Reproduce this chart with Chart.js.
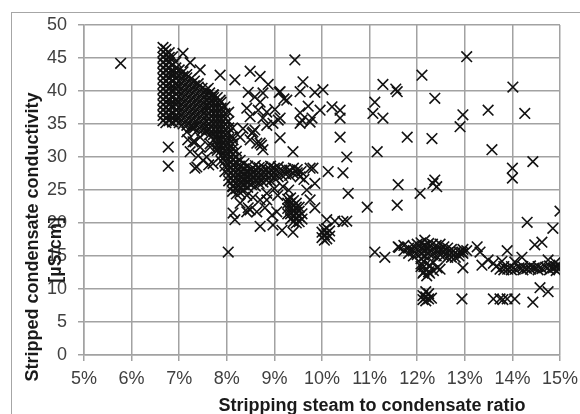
<!DOCTYPE html>
<html>
<head>
<meta charset="utf-8">
<script src="https://cdn.jsdelivr.net/npm/chart.js@4"></script>
<style>
  html, body { margin: 0; padding: 0; background: #fff; }
  canvas { display: block; }
</style>
</head>
<body>
<canvas id="chart" width="580" height="414"></canvas>
<script>
// ── Data (x = stripping steam ratio in %, y = conductivity in µS/cm)
const xTicks = [5, 6, 7, 8, 9, 10, 11, 12, 13, 14, 15];
const yTicks = [0, 5, 10, 15, 20, 25, 30, 35, 40, 45, 50];

// dense diagonal mass, one column of values per ratio
const massRatio = [6.66, 6.72, 6.79, 6.86, 6.93, 7.00, 7.08, 7.16, 7.24, 7.32, 7.40, 7.48,
  7.56, 7.64, 7.72, 7.80, 7.88, 7.96, 8.04, 8.12, 8.20, 8.28, 8.36];
const massCond = [
  [35.5, 36.3, 37.1, 37.9, 38.7, 39.5, 40.3, 41.1, 41.9, 42.7, 43.5, 44.3, 45.1, 45.9, 46.6],
  [35.2, 36.0, 36.8, 37.6, 38.4, 39.2, 40.0, 40.8, 41.6, 42.4, 43.2, 44.0, 44.8, 45.6, 46.3],
  [35.5, 36.3, 37.1, 37.9, 38.7, 39.5, 40.3, 41.1, 41.9, 42.7, 43.5, 44.3, 45.1, 45.8],
  [35.3, 36.5, 37.8, 39.0, 40.2, 41.5, 42.8, 44.0, 45.2],
  [35.5, 36.3, 37.1, 37.9, 38.7, 39.5, 40.3, 41.1, 41.9, 42.7, 43.5, 44.4],
  [35.2, 36.0, 36.8, 37.6, 38.4, 39.2, 40.0, 40.8, 41.6, 42.4, 43.2],
  [35.0, 35.8, 36.6, 37.4, 38.2, 39.0, 39.8, 40.6, 41.4, 42.2, 42.9],
  [34.8, 35.6, 36.4, 37.2, 38.0, 38.8, 39.6, 40.4, 41.2, 42.0, 42.5],
  [34.6, 35.4, 36.2, 37.0, 37.8, 38.6, 39.4, 40.2, 41.0, 41.8],
  [34.4, 35.2, 36.0, 36.8, 37.6, 38.4, 39.2, 40.0, 40.8, 41.5],
  [34.2, 35.0, 35.8, 36.6, 37.4, 38.2, 39.0, 39.8, 40.6, 41.1],
  [34.0, 34.8, 35.6, 36.4, 37.2, 38.0, 38.8, 39.6, 40.4],
  [33.8, 34.6, 35.4, 36.2, 37.0, 37.8, 38.6, 39.4, 40.1],
  [33.4, 34.2, 35.0, 35.8, 36.6, 37.4, 38.2, 39.0, 39.7],
  [32.6, 33.4, 34.2, 35.0, 35.8, 36.6, 37.4, 38.2, 39.0, 39.4],
  [31.0, 31.8, 32.6, 33.4, 34.2, 35.0, 35.8, 36.6, 37.4, 38.2, 39.0],
  [29.4, 30.2, 31.0, 31.8, 32.6, 33.4, 34.2, 35.0, 35.8, 36.6, 37.4, 38.3],
  [27.8, 28.6, 29.4, 30.2, 31.0, 31.8, 32.6, 33.4, 34.2, 35.0, 35.8, 36.6, 37.6],
  [26.4, 27.2, 28.0, 28.8, 29.6, 30.4, 31.2, 32.0, 32.8, 33.6, 34.4, 35.4, 36.8],
  [24.8, 25.6, 26.4, 27.2, 28.0, 28.8, 29.6, 30.4, 31.2, 32.0, 33.0, 34.4],
  [24.4, 25.2, 26.0, 26.8, 27.6, 28.4, 29.2, 30.0, 30.9],
  [24.6, 25.4, 26.2, 27.0, 27.8, 28.6, 29.5],
  [25.0, 25.8, 26.6, 27.4, 28.2, 29.0],
];

// horizontal band around 27 µS/cm
const bandRatio = [8.44, 8.52, 8.60, 8.68, 8.76, 8.84, 8.92, 9.00, 9.08, 9.16, 9.24, 9.32, 9.40, 9.48, 9.56];
const bandCond = [
  [25.4, 26.2, 27.0, 27.8, 28.6], [25.8, 26.6, 27.4, 28.2], [25.6, 26.4, 27.2, 28.0, 28.7],
  [26.0, 26.8, 27.6, 28.4], [26.2, 27.0, 27.8, 28.5], [26.5, 27.3, 28.1],
  [26.4, 27.2, 28.0, 28.6], [26.8, 27.6, 28.3], [27.0, 27.8, 28.5], [27.2, 28.0],
  [27.4, 28.2], [27.2, 28.0], [27.5, 28.3], [27.6, 28.1], [27.8],
];

// blobs near 9.4 % and 10 %
const blobRatio = [9.28, 9.34, 9.40, 9.46, 9.52, 9.58, 10.00, 10.05, 10.10, 10.16];
const blobCond = [
  [21.4, 22.2, 23.0, 23.6], [20.6, 21.4, 22.2, 23.0, 23.8], [20.2, 21.0, 21.8, 22.6, 23.4],
  [20.0, 20.8, 21.6, 22.4, 23.0], [20.2, 21.0, 21.8, 22.4], [20.6, 21.4],
  [17.8, 18.6], [17.4, 18.2, 19.0], [17.6, 18.4, 19.2], [18.0, 18.8],
];

// right-hand bands (12-13 % around 15.5, 13.6-15 % around 13)
const rightRatio = [11.62, 11.72, 11.82, 11.92, 12.00, 12.08, 12.16, 12.24, 12.32, 12.40, 12.48,
  12.56, 12.64, 12.72, 12.80, 12.88, 12.96, 13.04,
  12.08, 12.14, 12.20, 12.26, 12.34, 12.42, 12.48, 12.12, 12.18, 12.24, 12.30,
  13.66, 13.74, 13.82, 13.90, 13.98, 14.06, 14.14, 14.22, 14.30, 14.38, 14.46, 14.54,
  14.62, 14.70, 14.78, 14.86, 14.92, 14.98];
const rightCond = [
  [16.3], [15.8, 16.6], [15.4, 16.2], [15.0, 15.8, 16.5], [15.2, 16.0, 16.8],
  [14.6, 15.4, 16.2, 17.0], [15.0, 15.8, 16.6, 17.4], [15.4, 16.2, 16.9], [15.2, 16.0, 16.8],
  [15.0, 15.8, 16.6], [15.2, 16.0, 16.8], [15.0, 15.7, 16.4], [14.8, 15.5, 16.2],
  [14.8, 15.5, 16.0], [14.8, 15.5], [15.0, 15.6], [15.4, 16.0], [15.8],
  [13.8, 13.4], [12.6, 13.4, 14.2], [12.0, 13.0], [12.4, 13.6], [12.8, 14.0], [13.2], [13.0],
  [8.4, 9.0, 12.4], [8.2, 8.8, 9.6], [8.5, 9.3, 12.6], [8.6],
  [13.4], [13.0], [12.9, 13.4], [13.0], [12.9, 13.4], [13.0], [13.2], [12.9, 13.4],
  [13.1], [13.0, 13.5], [13.2], [12.9, 13.4], [13.1], [13.3], [12.9, 13.5], [13.2],
  [12.8, 13.4], [13.0, 13.6],
];

// single scattered crosses
const scatterRatio = [5.77, 6.77, 6.77, 8.03,
  7.23, 7.44, 7.86, 8.17, 8.49, 8.70, 8.87, 9.10, 9.20, 8.45, 8.59, 8.76, 8.70, 8.42, 8.49,
  8.66, 8.84, 9.01, 9.08, 8.97, 8.76, 9.12, 8.59, 8.49, 8.28, 8.34, 8.84, 8.55, 8.73, 9.39,
  8.70, 8.53, 8.63, 8.76, 7.61, 7.71, 7.58, 7.86, 7.08,
  7.29, 7.16, 7.23, 7.37, 7.33, 7.44, 7.58, 7.71, 7.79, 8.13, 8.00, 7.18, 7.44, 7.33, 7.65,
  7.50, 7.62, 7.40, 7.29, 7.58, 7.86, 7.65,
  9.43, 9.60, 10.02, 9.85, 9.54, 9.12, 9.26, 9.71, 9.96, 10.21, 10.38, 10.38, 9.54, 9.79,
  9.58, 9.12, 9.54, 9.75, 10.38, 10.52, 11.16, 11.79, 11.28, 11.55, 11.58, 11.11, 11.07,
  11.28, 12.10, 12.37, 12.31, 13.04, 14.01, 12.96, 12.90, 13.49, 14.26, 13.57, 14.43,
  14.00, 14.00,
  10.13, 10.44, 9.81, 9.85, 10.55, 11.60, 12.37, 12.41, 12.06, 12.33, 10.95, 11.58, 15.00,
  9.75, 9.62, 9.68, 9.54,
  14.31, 14.85, 14.62, 14.47, 11.11, 11.32, 11.60, 13.89, 13.26, 13.32, 13.36, 12.96,
  12.94, 13.49, 13.60, 14.58, 14.75, 14.43, 12.94, 13.60, 13.74, 13.89, 14.05, 13.80,
  14.20, 14.05, 14.75, 14.90, 13.78,
  8.13, 8.17, 8.42, 8.63, 8.70, 8.95, 8.97, 9.16, 9.39, 8.45, 8.55, 8.84, 9.07, 8.28,
  8.49, 8.80, 9.05, 9.75, 9.85, 10.10, 10.27, 10.52, 10.44, 8.13, 8.42, 8.70, 8.84,
  9.18, 9.00, 9.30];
const scatterCond = [44.2, 31.5, 28.6, 15.6,
  44.3, 43.2, 42.4, 41.7, 43.0, 42.2, 41.0, 39.8, 38.8, 39.8, 39.1, 39.7, 38.3, 37.4, 36.1,
  37.1, 36.8, 37.2, 35.6, 35.1, 35.9, 32.9, 34.1, 32.6, 33.0, 34.3, 34.8, 33.8, 31.8, 30.8,
  32.1, 33.6, 32.1, 31.1, 40.4, 39.4, 37.6, 38.6, 45.7,
  34.5, 33.8, 30.8, 28.5, 28.3, 31.5, 30.0, 29.0, 31.3, 32.6, 30.6, 32.6, 33.0, 32.3, 31.5,
  29.5, 28.8, 30.2, 32.3, 34.1, 32.6, 32.0,
  44.7, 41.4, 40.2, 39.8, 39.9, 39.9, 38.6, 37.7, 37.1, 37.6, 37.1, 35.9, 36.7, 35.9,
  35.6, 35.9, 35.1, 35.3, 33.0, 30.0, 30.8, 33.0, 41.0, 40.3, 39.9, 38.3, 36.6,
  35.9, 42.4, 38.9, 32.8, 45.2, 40.6, 36.4, 34.6, 37.1, 36.6, 31.1, 29.3,
  28.3, 26.8,
  27.8, 27.6, 28.3, 26.0, 24.5, 25.8, 26.5, 25.5, 24.5, 26.0, 22.4, 22.7, 21.8,
  28.3, 26.6, 25.0, 27.0,
  20.1, 19.2, 17.1, 16.7, 15.6, 14.8, 16.4, 15.8, 16.4, 15.6, 13.6, 13.2,
  15.6, 14.4, 13.9, 10.2, 9.6, 8.0, 8.5, 8.5, 8.5, 8.5, 8.5, 8.4,
  14.8, 14.1, 14.4, 14.0, 14.2,
  21.5, 20.5, 21.7, 21.7, 19.5, 21.2, 19.7, 18.9, 18.6, 22.3, 23.9, 23.5, 24.2, 23.0,
  22.0, 22.3, 21.7, 23.5, 22.3, 20.5, 20.3, 20.3, 20.2, 25.5, 24.2, 23.5, 24.5,
  25.5, 25.2, 25.0];

const xTitle = "Stripping steam to condensate ratio";
const yTitle = ["Stripped condensate conductivity", "[µS/cm]"];

// ── Build the point list from the arrays above
function fromColumns(xs, ys) {
  const out = [];
  xs.forEach((x, i) => ys[i].forEach(y => out.push({ x, y })));
  return out;
}
const points = [
  ...fromColumns(massRatio, massCond),
  ...fromColumns(bandRatio, bandCond),
  ...fromColumns(blobRatio, blobCond),
  ...fromColumns(rightRatio, rightCond),
  ...scatterRatio.map((x, i) => ({ x, y: scatterCond[i] })),
];

const FONT = '"Liberation Sans", Arial, sans-serif';
const GRID = "#a2a2a2";

// frame round the whole chart plus the hand-placed axis titles
const decorations = {
  id: "decorations",
  beforeDraw(chart) {
    const c = chart.ctx;
    c.save();
    c.strokeStyle = "#a6a6a6";
    c.lineWidth = 1;
    c.strokeRect(11.5, 12.5, 640, 460);
    c.restore();
  },
  afterDraw(chart) {
    const c = chart.ctx;
    c.save();
    c.fillStyle = "#1a1a1a";
    c.font = "bold 18px " + FONT;
    c.textAlign = "center";
    c.textBaseline = "alphabetic";
    c.fillText(xTitle, 372, 411);
    c.translate(38, 237);
    c.rotate(-Math.PI / 2);
    c.fillText(yTitle[0], 0, 0);
    c.fillText(yTitle[1], -13, 23);
    c.restore();
  },
};

new Chart(document.getElementById("chart"), {
  type: "scatter",
  data: {
    datasets: [{
      data: points,
      pointStyle: "crossRot",
      pointRadius: 7.5,
      pointBorderWidth: 1.6,
      borderColor: "#121212",
      backgroundColor: "#121212",
    }],
  },
  options: {
    responsive: false,
    animation: false,
    devicePixelRatio: 1,
    layout: { padding: { left: 0, top: 25, right: 20, bottom: 0 } },
    plugins: { legend: { display: false }, tooltip: { enabled: false } },
    scales: {
      x: {
        type: "linear",
        min: xTicks[0],
        max: xTicks[xTicks.length - 1],
        afterBuildTicks: s => { s.ticks = xTicks.map(v => ({ value: v })); },
        afterFit: s => { s.height = 59; s.paddingLeft = 0; s.paddingRight = 0; },
        ticks: {
          callback: v => Math.round(v) + "%",
          color: "#404040",
          font: { family: FONT, size: 18 },
          padding: 7,
          maxRotation: 0,
        },
        grid: { color: GRID, lineWidth: 1.5, tickLength: 6 },
        border: { color: GRID, width: 1.5 },
      },
      y: {
        min: yTicks[0],
        max: yTicks[yTicks.length - 1],
        afterBuildTicks: s => { s.ticks = yTicks.map(v => ({ value: v })); },
        afterFit: s => { s.width = 84; s.paddingTop = 0; s.paddingBottom = 0; },
        ticks: {
          color: "#404040",
          font: { family: FONT, size: 18 },
          padding: 11,
        },
        grid: { color: GRID, lineWidth: 1.5, tickLength: 6 },
        border: { color: GRID, width: 1.5 },
      },
    },
  },
  plugins: [decorations],
});
</script>
</body>
</html>
